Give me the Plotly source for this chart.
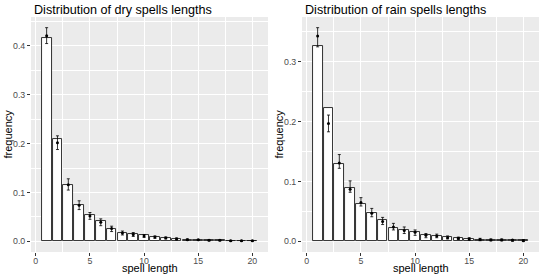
import plotly.graph_objects as go

spell_length = list(range(1, 21))

dry_freq = [0.416, 0.209, 0.116, 0.074, 0.053, 0.041, 0.025, 0.017, 0.014, 0.012,
            0.009, 0.007, 0.005, 0.003, 0.003, 0.002, 0.002, 0.001, 0.001, 0.001]
dry_mean = [0.421, 0.202, 0.116, 0.074, 0.052, 0.039, 0.026, 0.017, 0.014, 0.011,
            0.009, 0.007, 0.005, 0.003, 0.003, 0.002, 0.002, 0.001, 0.001, 0.001]
dry_low = [0.405, 0.188, 0.105, 0.065, 0.045, 0.032, 0.020, 0.013, 0.010, 0.008,
           0.006, 0.005, 0.003, 0.002, 0.002, 0.001, 0.001, 0.000, 0.000, 0.000]
dry_high = [0.4375, 0.216, 0.128, 0.083, 0.059, 0.046, 0.031, 0.021, 0.018, 0.014,
            0.011, 0.009, 0.007, 0.005, 0.004, 0.003, 0.003, 0.002, 0.002, 0.002]

rain_freq = [0.326, 0.222, 0.129, 0.089, 0.063, 0.047, 0.035, 0.022, 0.019, 0.015,
             0.010, 0.009, 0.007, 0.005, 0.004, 0.003, 0.003, 0.003, 0.002, 0.002]
rain_mean = [0.343, 0.197, 0.131, 0.087, 0.065, 0.047, 0.033, 0.024, 0.018, 0.015,
             0.010, 0.009, 0.006, 0.005, 0.004, 0.003, 0.002, 0.002, 0.002, 0.001]
rain_low = [0.325, 0.183, 0.122, 0.082, 0.059, 0.041, 0.028, 0.019, 0.013, 0.010,
            0.006, 0.006, 0.004, 0.003, 0.002, 0.001, 0.001, 0.001, 0.000, 0.000]
rain_high = [0.357, 0.211, 0.145, 0.101, 0.073, 0.055, 0.040, 0.030, 0.024, 0.019,
             0.013, 0.012, 0.009, 0.007, 0.006, 0.005, 0.004, 0.004, 0.003, 0.003]

x_ticks = [0, 5, 10, 15, 20]
titles = ["Distribution of dry spells lengths", "Distribution of rain spells lengths"]
x_title = "spell length"
y_title = "frequency"

FONT = "Liberation Sans, Arial, sans-serif"
W, H = 542, 277
panels_px = [(31, 268), (302, 539)]
y_px = (17, 252)

fig = go.Figure()

series = [(dry_freq, dry_mean, dry_low, dry_high), (rain_freq, rain_mean, rain_low, rain_high)]
for i, (freq, mean, low, high) in enumerate(series):
    xa = "x" if i == 0 else "x2"
    ya = "y" if i == 0 else "y2"
    fig.add_trace(go.Bar(
        x=spell_length, y=freq, width=0.9, xaxis=xa, yaxis=ya,
        marker=dict(color="white", line=dict(color="#1a1a1a", width=0.9)),
        showlegend=False, hoverinfo="x+y"))
    fig.add_trace(go.Scatter(
        x=spell_length, y=mean, mode="markers", xaxis=xa, yaxis=ya,
        marker=dict(color="black", size=3),
        error_y=dict(type="data", symmetric=False,
                     array=[h - m for h, m in zip(high, mean)],
                     arrayminus=[m - l for m, l in zip(mean, low)],
                     color="black", thickness=0.8, width=1.5),
        showlegend=False))

axis_common = dict(
    showline=False, zeroline=False, ticks="outside", ticklen=3, tickwidth=0.8,
    tickcolor="#333333", gridcolor="white", gridwidth=1.1,
    tickfont=dict(family=FONT, size=8.8, color="#4D4D4D"),
)

ymax_dry = max(dry_high)
ymax_rain = max(rain_high)
xr = [0.55 - 0.05 * 19.9, 20.45 + 0.05 * 19.9]

for i, ((x0, x1), ymax) in enumerate(zip(panels_px, [ymax_dry, ymax_rain])):
    sfx = "" if i == 0 else "2"
    fig.layout["xaxis" + sfx] = dict(
        axis_common, domain=[x0 / W, x1 / W], range=xr, tickvals=x_ticks,
        anchor="y" + sfx, ticklabelstandoff=-3,
        minor=dict(showgrid=True, gridcolor="white", gridwidth=0.5, dtick=2.5, tick0=0))
    fig.layout["yaxis" + sfx] = dict(
        axis_common, domain=[1 - y_px[1] / H, 1 - y_px[0] / H],
        range=[-0.05 * ymax, 1.05 * ymax], tickformat=".1f", dtick=0.1,
        anchor="x" + sfx,
        minor=dict(showgrid=True, gridcolor="white", gridwidth=0.5, dtick=0.05, tick0=0))

annotations = []
for i, (x0, x1) in enumerate(panels_px):
    annotations.append(dict(
        text=titles[i], x=(x0 + 1) / W, y=1 - 10 / H, xref="paper", yref="paper",
        xanchor="left", yanchor="middle", showarrow=False,
        font=dict(family=FONT, size=12.6, color="black")))
    annotations.append(dict(
        text=x_title, x=(x0 + x1) / 2 / W, y=1 - 268 / H, xref="paper", yref="paper",
        xanchor="center", yanchor="middle", showarrow=False,
        font=dict(family=FONT, size=11, color="black")))
    annotations.append(dict(
        text=y_title, x=(x0 - 24) / W, y=1 - ((y_px[0] + y_px[1]) / 2) / H,
        xref="paper", yref="paper", textangle=-90,
        xanchor="center", yanchor="middle", showarrow=False,
        font=dict(family=FONT, size=11, color="black")))

fig.update_layout(
    width=W, height=H, margin=dict(l=0, r=0, t=0, b=0),
    paper_bgcolor="white", plot_bgcolor="#EBEBEB",
    bargap=0, annotations=annotations,
    font=dict(family=FONT),
)

fig.write_html("out.html", config={"displayModeBar": False},
               post_script="document.body.style.margin='0';document.body.style.overflow='hidden';")
